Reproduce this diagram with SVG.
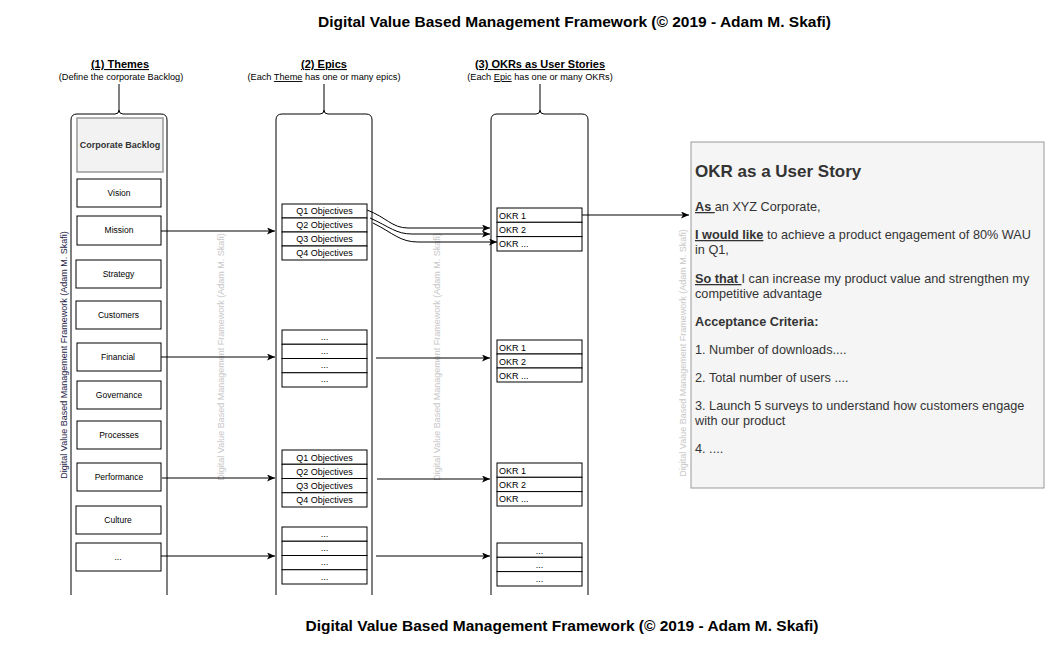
<svg xmlns="http://www.w3.org/2000/svg" width="1061" height="648" viewBox="0 0 1061 648">
<style>
text{font-family:"Liberation Sans",Arial,sans-serif;}
.title{font-size:15.5px;font-weight:bold;fill:#000;text-anchor:middle;}
.head{font-size:11px;font-weight:bold;text-decoration:underline;text-anchor:middle;fill:#000;}
.sub{font-size:9.2px;text-anchor:middle;fill:#000;}
.lane{fill:none;stroke:#000;stroke-width:1;}
.box{fill:#fff;stroke:#000;stroke-width:1;}
.lbl{font-size:8.5px;text-anchor:middle;fill:#000;}
.cell{font-size:9px;text-anchor:middle;fill:#000;}
.okr{font-size:9px;fill:#000;}
.wm{font-size:9px;fill:#c8c8c8;text-anchor:middle;}
.wmd{font-size:9px;fill:#1f2347;text-anchor:middle;}
.conn{fill:none;stroke:#000;stroke-width:1;}
.story{font-size:12.7px;fill:#333;}
</style>
<defs>
<marker id="arr" markerUnits="userSpaceOnUse" markerWidth="9" markerHeight="8" refX="8" refY="3.5" orient="auto">
<path d="M0,0 L8,3.5 L0,7 L2,3.5 z" fill="#000"/>
</marker>
</defs>
<rect width="1061" height="648" fill="#fff"/>

<text class="title" x="574.5" y="27">Digital Value Based Management Framework (© 2019 - Adam M. Skafi)</text>
<text class="title" x="562" y="631">Digital Value Based Management Framework (© 2019 - Adam M. Skafi)</text>

<g id="lane-themes">
<text class="head" x="120" y="68">(1) Themes</text>
<text class="sub" x="121" y="80">(Define the corporate Backlog)</text>
<path class="lane" d="M119,84 V110 Q119,114 115,114 H77 Q71,114 71,120 V595 M119,110 Q119,114 123,114 H161 Q167,114 167,120 V595"/>
</g>
<g id="lane-epics">
<text class="head" x="324" y="68">(2) Epics</text>
<text class="sub" x="324" y="80">(Each <tspan text-decoration="underline">Theme</tspan> has one or many epics)</text>
<path class="lane" d="M324,84 V110 Q324,114 320,114 H282 Q276,114 276,120 V595 M324,110 Q324,114 328,114 H366 Q372,114 372,120 V595"/>
</g>
<g id="lane-okrs">
<text class="head" x="540" y="68">(3) OKRs as User Stories</text>
<text class="sub" x="540" y="80">(Each <tspan text-decoration="underline">Epic</tspan> has one or many OKRs)</text>
<path class="lane" d="M540,84 V110 Q540,114 536,114 H497 Q491,114 491,120 V595 M540,110 Q540,114 544,114 H582 Q588,114 588,120 V595"/>
</g>

<g id="watermarks">
<text class="wmd" transform="translate(67,355) rotate(-90)">Digital Value Based Management Framework (Adam M. Skafi)</text>
<text class="wm" transform="translate(224,357) rotate(-90)">Digital Value Based Management Framework (Adam M. Skafi)</text>
<text class="wm" transform="translate(440,357) rotate(-90)">Digital Value Based Management Framework (Adam M. Skafi)</text>
<text class="wm" transform="translate(686,353) rotate(-90)">Digital Value Based Management Framework (Adam M. Skafi)</text>
</g>

<g id="corporate-backlog">
<rect x="77" y="118" width="86" height="54" fill="#f2f2f2" stroke="#999" stroke-width="1.5"/>
<text x="120" y="148" font-size="9" font-weight="bold" text-anchor="middle" fill="#333">Corporate Backlog</text>
</g>
<g id="vision"><rect class="box" x="77" y="179" width="84" height="28"/><text class="lbl" x="119" y="196">Vision</text></g>
<g id="mission"><rect class="box" x="77" y="216" width="84" height="29"/><text class="lbl" x="119" y="233">Mission</text></g>
<g id="strategy"><rect class="box" x="76" y="260" width="85" height="28"/><text class="lbl" x="118.5" y="277">Strategy</text></g>
<g id="customers"><rect class="box" x="76" y="301" width="85" height="28"/><text class="lbl" x="118.5" y="318">Customers</text></g>
<g id="financial"><rect class="box" x="77" y="343" width="84" height="28"/><text class="lbl" x="118" y="360">Financial</text></g>
<g id="governance"><rect class="box" x="77" y="381" width="84" height="28"/><text class="lbl" x="119" y="398">Governance</text></g>
<g id="processes"><rect class="box" x="77" y="421" width="84" height="28"/><text class="lbl" x="119" y="438">Processes</text></g>
<g id="performance"><rect class="box" x="77" y="463" width="84" height="28"/><text class="lbl" x="119" y="480">Performance</text></g>
<g id="culture"><rect class="box" x="76" y="506" width="85" height="28"/><text class="lbl" x="118" y="523">Culture</text></g>
<g id="theme-more"><rect class="box" x="76" y="543" width="85" height="28"/><text class="lbl" x="118" y="560" fill="#1a3a9a">...</text></g>

<g id="epics-mission">
<rect class="box" x="282" y="204" width="85" height="14"/><text class="cell" x="324.5" y="214">Q1 Objectives</text>
<rect class="box" x="282" y="218" width="85" height="14"/><text class="cell" x="324.5" y="228">Q2 Objectives</text>
<rect class="box" x="282" y="232" width="85" height="14"/><text class="cell" x="324.5" y="242">Q3 Objectives</text>
<rect class="box" x="282" y="246" width="85" height="14"/><text class="cell" x="324.5" y="256">Q4 Objectives</text>
</g>
<g id="epics-financial">
<rect class="box" x="282" y="330" width="85" height="14.25"/><text class="cell" x="324.5" y="340">...</text>
<rect class="box" x="282" y="344.25" width="85" height="14.25"/><text class="cell" x="324.5" y="354">...</text>
<rect class="box" x="282" y="358.5" width="85" height="14.25"/><text class="cell" x="324.5" y="368">...</text>
<rect class="box" x="282" y="372.75" width="85" height="14.25"/><text class="cell" x="324.5" y="382">...</text>
</g>
<g id="epics-performance">
<rect class="box" x="282" y="450" width="85" height="14.25"/><text class="cell" x="324.5" y="460.5">Q1 Objectives</text>
<rect class="box" x="282" y="464.25" width="85" height="14.25"/><text class="cell" x="324.5" y="474.5">Q2 Objectives</text>
<rect class="box" x="282" y="478.5" width="85" height="14.25"/><text class="cell" x="324.5" y="489">Q3 Objectives</text>
<rect class="box" x="282" y="492.75" width="85" height="14.25"/><text class="cell" x="324.5" y="503">Q4 Objectives</text>
</g>
<g id="epics-more">
<rect class="box" x="282" y="527" width="85" height="14.25"/><text class="cell" x="324.5" y="537">...</text>
<rect class="box" x="282" y="541.25" width="85" height="14.25"/><text class="cell" x="324.5" y="551">...</text>
<rect class="box" x="282" y="555.5" width="85" height="14.25"/><text class="cell" x="324.5" y="565">...</text>
<rect class="box" x="282" y="569.75" width="85" height="14.25"/><text class="cell" x="324.5" y="579.5">...</text>
</g>

<g id="okrs-mission">
<rect class="box" x="497" y="208" width="85" height="14.3"/><text class="okr" x="499" y="218.5">OKR 1</text>
<rect class="box" x="497" y="222.3" width="85" height="14.3"/><text class="okr" x="499" y="232.8">OKR 2</text>
<rect class="box" x="497" y="236.6" width="85" height="14.4"/><text class="okr" x="499" y="247">OKR ...</text>
</g>
<g id="okrs-financial">
<rect class="box" x="497" y="340" width="85" height="14"/><text class="okr" x="499" y="350.5">OKR 1</text>
<rect class="box" x="497" y="354" width="85" height="14"/><text class="okr" x="499" y="364.5">OKR 2</text>
<rect class="box" x="497" y="368" width="85" height="14"/><text class="okr" x="499" y="378.5">OKR ...</text>
</g>
<g id="okrs-performance">
<rect class="box" x="497" y="463" width="85" height="14.3"/><text class="okr" x="499" y="473.5">OKR 1</text>
<rect class="box" x="497" y="477.3" width="85" height="14.3"/><text class="okr" x="499" y="487.8">OKR 2</text>
<rect class="box" x="497" y="491.6" width="85" height="14.4"/><text class="okr" x="499" y="502">OKR ...</text>
</g>
<g id="okrs-more">
<rect class="box" x="497" y="543" width="85" height="14.3"/><text class="cell" x="539.5" y="553.5">...</text>
<rect class="box" x="497" y="557.3" width="85" height="14.3"/><text class="cell" x="539.5" y="567.8">...</text>
<rect class="box" x="497" y="571.6" width="85" height="14.4"/><text class="cell" x="539.5" y="582">...</text>
</g>

<g id="okr-user-story">
<rect x="691" y="142" width="353" height="346" fill="#f5f5f5" stroke="#999" stroke-width="1"/>
<text x="695" y="177" font-size="17" font-weight="bold" fill="#333">OKR as a User Story</text>
<text class="story" x="695" y="211"><tspan font-weight="bold" text-decoration="underline">As </tspan>an XYZ Corporate,</text>
<text class="story" x="695" y="239"><tspan font-weight="bold" text-decoration="underline">I would like</tspan> to achieve a product engagement of 80% WAU</text>
<text class="story" x="695" y="254">in Q1,</text>
<text class="story" x="695" y="283"><tspan font-weight="bold" text-decoration="underline">So that </tspan>I can increase my product value and strengthen my</text>
<text class="story" x="695" y="298">competitive advantage</text>
<text class="story" x="695" y="326" font-weight="bold">Acceptance Criteria:</text>
<text class="story" x="695" y="354">1. Number of downloads....</text>
<text class="story" x="695" y="382">2. Total number of users ....</text>
<text class="story" x="695" y="410">3. Launch 5 surveys to understand how customers engage</text>
<text class="story" x="695" y="425">with our product</text>
<text class="story" x="695" y="453">4. ....</text>
</g>

<g id="connectors">
<path class="conn" marker-end="url(#arr)" d="M161,231 H275"/>
<path class="conn" marker-end="url(#arr)" d="M161,357 H275"/>
<path class="conn" marker-end="url(#arr)" d="M162,478 H275"/>
<path class="conn" marker-end="url(#arr)" d="M161,556 H275"/>
<path class="conn" marker-end="url(#arr)" d="M376,358 H490"/>
<path class="conn" marker-end="url(#arr)" d="M377,479 H490"/>
<path class="conn" marker-end="url(#arr)" d="M376,556 H490"/>
<path class="conn" marker-end="url(#arr)" d="M367,210 C386,217 392,228 408,228 L490,228"/>
<path class="conn" marker-end="url(#arr)" d="M370,218 C390,227 396,234 412,234 L490,234"/>
<path class="conn" marker-end="url(#arr)" d="M373,223 C393,233 400,242 418,242 L497,242"/>
<path class="conn" marker-end="url(#arr)" d="M582,215 H689"/>
</g>
</svg>
